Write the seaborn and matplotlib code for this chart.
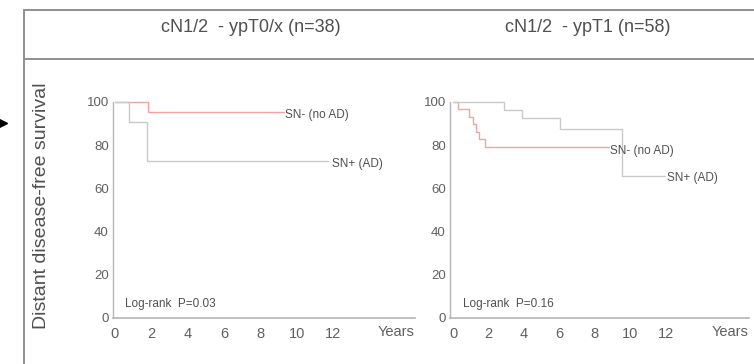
import matplotlib
matplotlib.use("Agg")
import matplotlib.pyplot as plt
from matplotlib.lines import Line2D
import seaborn as sns

# ================================================================
# Data (years, % distant disease-free survival)
# ================================================================
panel_titles = ["cN1/2  - ypT0/x (n=38)", "cN1/2  - ypT1 (n=58)"]
pvalues = ["Log-rank  P=0.03", "Log-rank  P=0.16"]

# panel 1: ypT0/x
p1_neg_time = [0, 1.85]
p1_neg_surv = [100, 95.5]
p1_neg_end = 9.3
p1_pos_time = [0, 0.8, 1.75]
p1_pos_surv = [100, 90.9, 72.7]
p1_pos_end = 11.7

# panel 2: ypT1
p2_neg_time = [0, 0.3, 0.9, 1.1, 1.3, 1.45, 1.8]
p2_neg_surv = [100, 96.6, 93.1, 89.7, 86.2, 82.8, 79.3]
p2_neg_end = 8.8
p2_pos_time = [0, 2.9, 3.9, 6.05, 9.55]
p2_pos_surv = [100, 96.5, 92.6, 87.7, 65.7]
p2_pos_end = 11.95

x_ticks = [0, 2, 4, 6, 8, 10, 12]
x_minor = [1, 3, 5, 7, 9, 11]
y_ticks = [0, 20, 40, 60, 80, 100]

RED = "#f2a3a3"
GREY = "#c9c9c9"
TXT = "#505050"

sns.set_style("white")
plt.rcParams["font.family"] = ["Liberation Sans", "DejaVu Sans"]


def km_step(ax, times, surv, end, color):
    xs = list(times) + [end]
    ys = list(surv) + [surv[-1]]
    sns.lineplot(x=xs, y=ys, drawstyle="steps-post", color=color,
                 lw=1.0, estimator=None, sort=False, ax=ax, clip_on=False)


def style_axis(ax, xmin, xmax):
    ax.set_xlim(xmin, xmax)
    ax.set_ylim(0, 100)
    sns.despine(ax=ax)
    ax.spines["left"].set_color("#b5b5b5")
    ax.spines["bottom"].set_color("#b5b5b5")
    ax.spines["left"].set_linewidth(1.0)
    ax.spines["bottom"].set_linewidth(1.2)
    ax.set_xticks(x_ticks)
    ax.set_xticks(x_minor, minor=True)
    ax.set_yticks(y_ticks)
    ax.tick_params(axis="x", which="major", length=3, width=1.3,
                   direction="inout", color="#808080", pad=5,
                   labelsize=10.5, labelcolor="#606060")
    ax.tick_params(axis="x", which="minor", length=2, width=0.8,
                   direction="inout", color="#c0c0c0")
    ax.tick_params(axis="y", length=2, width=0.8, color="#b0b0b0",
                   pad=1, labelsize=9.5, labelcolor="#606060")
    ax.set_xlabel("")
    ax.set_ylabel("")
    ax.grid(False)


fig = plt.figure(figsize=(7.54, 3.64), dpi=100)
ax1 = fig.add_axes([113 / 754, 46 / 364, 302 / 754, 216 / 364])
ax2 = fig.add_axes([450 / 754, 46 / 364, 299 / 754, 216 / 364])

# ---------------- panel 1 ----------------
km_step(ax1, p1_neg_time, p1_neg_surv, p1_neg_end, RED)
km_step(ax1, p1_pos_time, p1_pos_surv, p1_pos_end, GREY)
style_axis(ax1, -0.1, 16.5)
ax1.text(p1_neg_end + 0.05, p1_neg_surv[-1] - 1.5, "SN- (no AD)",
         fontsize=8.5, color=TXT, va="center")
ax1.text(p1_pos_end + 0.25, p1_pos_surv[-1] - 1.5, "SN+ (AD)",
         fontsize=8.5, color=TXT, va="center")
ax1.text(0.55, 3.5, pvalues[0], fontsize=8.5, color=TXT, va="bottom")

# ---------------- panel 2 ----------------
km_step(ax2, p2_neg_time, p2_neg_surv, p2_neg_end, RED)
km_step(ax2, p2_pos_time, p2_pos_surv, p2_pos_end, GREY)
style_axis(ax2, -0.17, 16.7)
ax2.text(p2_neg_end + 0.05, p2_neg_surv[-1] - 2.0, "SN- (no AD)",
         fontsize=8.5, color=TXT, va="center")
ax2.text(p2_pos_end + 0.15, p2_pos_surv[-1] - 1.0, "SN+ (AD)",
         fontsize=8.5, color=TXT, va="center")
ax2.text(0.55, 3.5, pvalues[1], fontsize=8.5, color=TXT, va="bottom")

# "Years" at the end of each x axis
fig.text(414 / 754, 1 - 332 / 364, "Years", ha="right", va="center",
         fontsize=10.5, color="#606060")
fig.text(749 / 754, 1 - 332 / 364, "Years", ha="right", va="center",
         fontsize=10.5, color="#606060")

# panel titles in the header row
fig.text(251 / 754, 1 - 28 / 364, panel_titles[0], ha="center", va="center",
         fontsize=13, color=TXT)
fig.text(588 / 754, 1 - 28 / 364, panel_titles[1], ha="center", va="center",
         fontsize=13, color=TXT)

# shared y label
fig.text(42 / 754, 1 - 206 / 364, "Distant disease-free survival",
         rotation=90, ha="center", va="center", fontsize=14, color=TXT)

# table frame lines
frame = "#8f8f8f"
fig.add_artist(Line2D([24 / 754, 24 / 754], [0, 1 - 10 / 364],
                      transform=fig.transFigure, color=frame, lw=1.4))
fig.add_artist(Line2D([24 / 754, 1], [1 - 10 / 364, 1 - 10 / 364],
                      transform=fig.transFigure, color=frame, lw=1.4))
fig.add_artist(Line2D([24 / 754, 1], [1 - 59 / 364, 1 - 59 / 364],
                      transform=fig.transFigure, color=frame, lw=1.4))

# arrow tip poking in from the left edge (cut off in the original too)
fig.add_artist(Line2D([1 / 754], [1 - 123 / 364], marker=">", markersize=8,
                      color="black", transform=fig.transFigure, lw=0))

fig.savefig("out.png", dpi=100)
plt.close(fig)
